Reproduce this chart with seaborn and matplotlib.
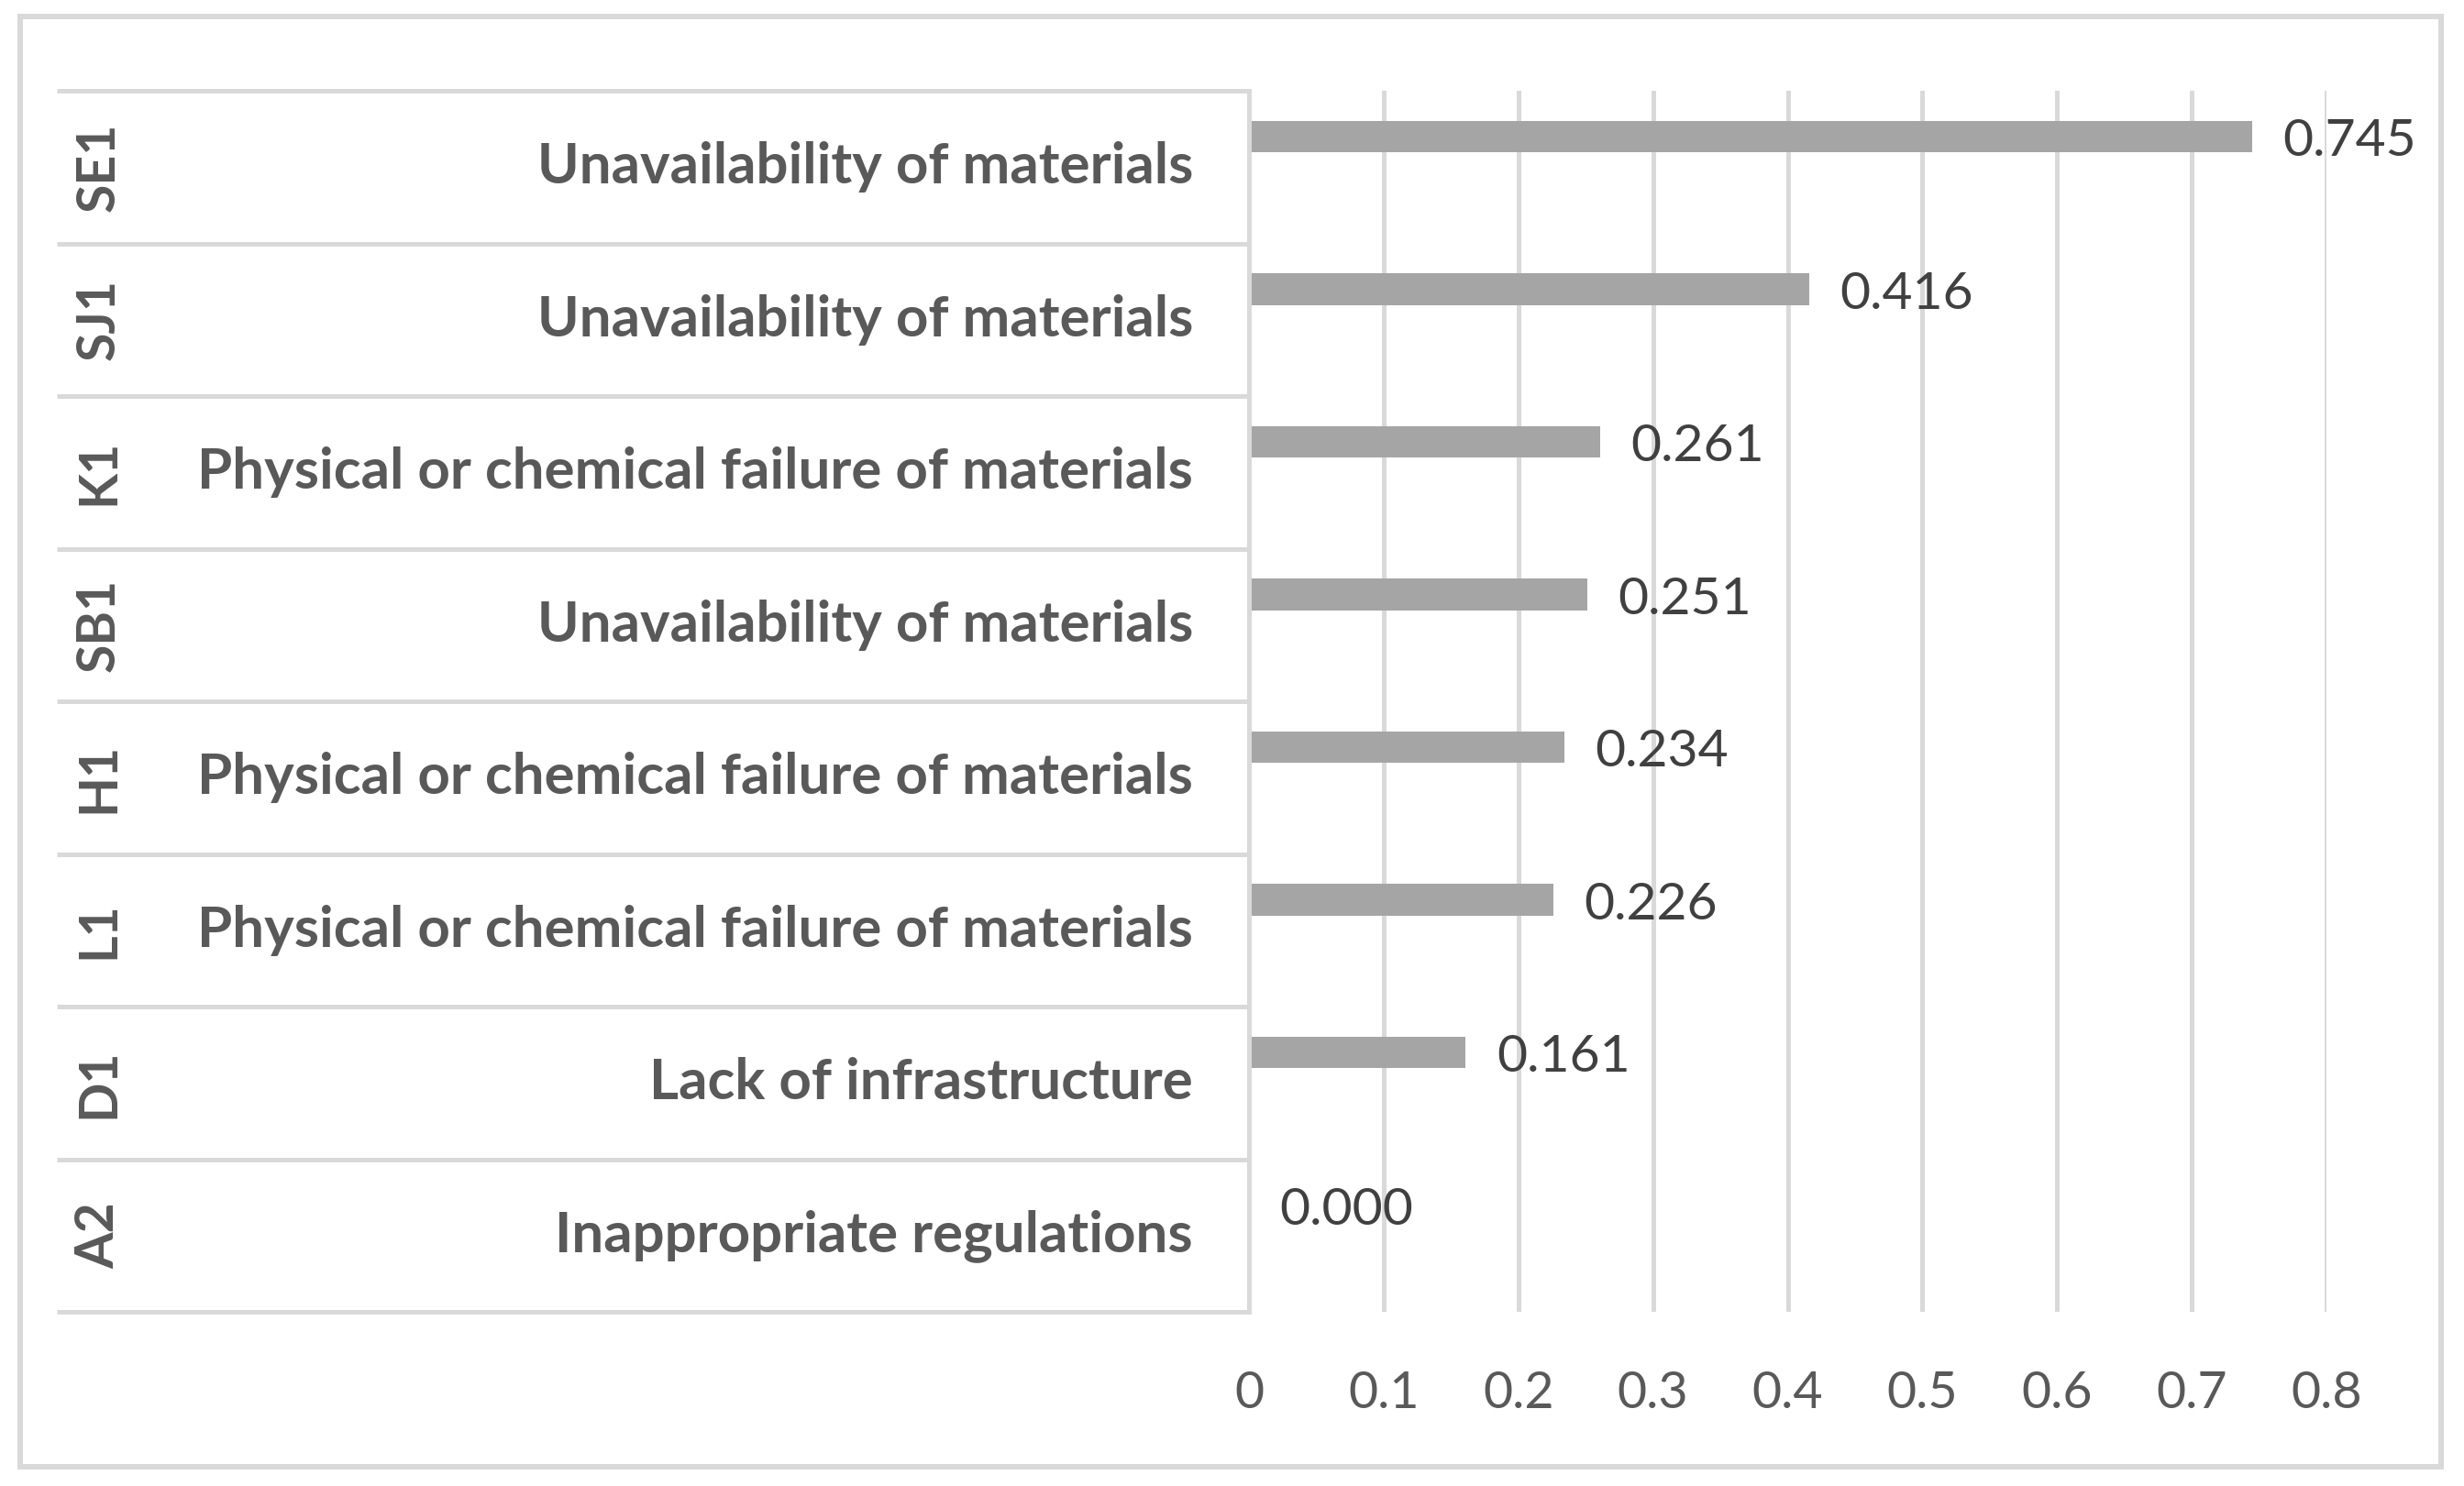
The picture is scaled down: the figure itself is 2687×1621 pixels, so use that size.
import numpy as np
import pandas as pd
import seaborn as sns
import matplotlib
matplotlib.use("Agg")
import matplotlib.pyplot as plt
from matplotlib.transforms import blended_transform_factory
from matplotlib.patches import Rectangle

# ---- data ----
codes = ["SE1", "SJ1", "K1", "SB1", "H1", "L1", "D1", "A2"]
descriptions = [
    "Unavailability of materials",
    "Unavailability of materials",
    "Physical or chemical failure of materials",
    "Unavailability of materials",
    "Physical or chemical failure of materials",
    "Physical or chemical failure of materials",
    "Lack of infrastructure",
    "Inappropriate regulations",
]
values = [0.745, 0.416, 0.261, 0.251, 0.234, 0.226, 0.161, 0.000]
x_ticks = [0, 0.1, 0.2, 0.3, 0.4, 0.5, 0.6, 0.7, 0.8]
x_tick_labels = ["0", "0.1", "0.2", "0.3", "0.4", "0.5", "0.6", "0.7", "0.8"]

# ---- style ----
sns.set_theme(style="white")
plt.rcParams["font.family"] = ["Lato", "DejaVu Sans"]

GRID = "#D9D9D9"
TEXT = "#595959"
BAR = "#A5A5A5"

W, H = 2687, 1621
X0, X1 = 1362, 2537      # pixel positions of 0 and 0.8
Y0, Y1 = 99, 1431        # top / bottom of the plotting area
fig = plt.figure(figsize=(W / 100, H / 100), dpi=100)
ax = fig.add_axes([X0 / W, 1 - Y1 / H, (X1 - X0) / W, (Y1 - Y0) / H])

df = pd.DataFrame({"code": codes, "desc": descriptions, "value": values})
bar_offset = -0.2
df["row"] = np.arange(len(df)) + bar_offset

sns.barplot(data=df, x="value", y="row", orient="h", native_scale=True,
            width=0.205, color=BAR, saturation=1, errorbar=None, ax=ax,
            linewidth=0)

ax.set_xlim(0, 0.8)
ax.set_ylim(len(df) - 0.5, -0.5)
ax.set_xticks(x_ticks)
ax.set_xticklabels(x_tick_labels)
ax.set_yticks([])
ax.set_xlabel("")
ax.set_ylabel("")
ax.tick_params(axis="x", length=0, pad=46, labelsize=40, labelcolor=TEXT)

ax.grid(axis="x", color=GRID, lw=3.6)
ax.set_axisbelow(True)
for s in ["top", "right", "bottom"]:
    ax.spines[s].set_visible(False)
ax.spines["left"].set_color(GRID)
ax.spines["left"].set_linewidth(3.6)

# value labels
for i, v in enumerate(values):
    ax.annotate(f"{v:.3f}", xy=(v, i + bar_offset), xytext=(24, -4),
                textcoords="offset points", ha="left", va="center",
                fontsize=41, color="#404040")

# table on the left
span = X1 - X0
trans = blended_transform_factory(ax.transAxes, ax.transData)
for b in np.arange(-0.5, len(df), 1.0):
    ax.plot([(62 - X0) / span, 0], [b, b], transform=trans, color=GRID,
            lw=3.6, clip_on=False, solid_capstyle="butt")
for i, (c, d) in enumerate(zip(codes, descriptions)):
    ax.text((108 - X0) / span, i, c, transform=trans, rotation=90,
            ha="center", va="center", fontsize=41, fontweight="bold",
            color=TEXT)
    ax.text((1301 - X0) / span, i, d, transform=trans, ha="right",
            va="center", fontsize=44.5, fontweight="bold", color=TEXT)

# outer frame
fig.patches.append(Rectangle((22 / W, 1 - 1600 / H), (2662 - 22) / W,
                             (1600 - 18) / H, transform=fig.transFigure,
                             fill=False, ec=GRID, lw=4.3))

fig.savefig("out.png", dpi=100)
